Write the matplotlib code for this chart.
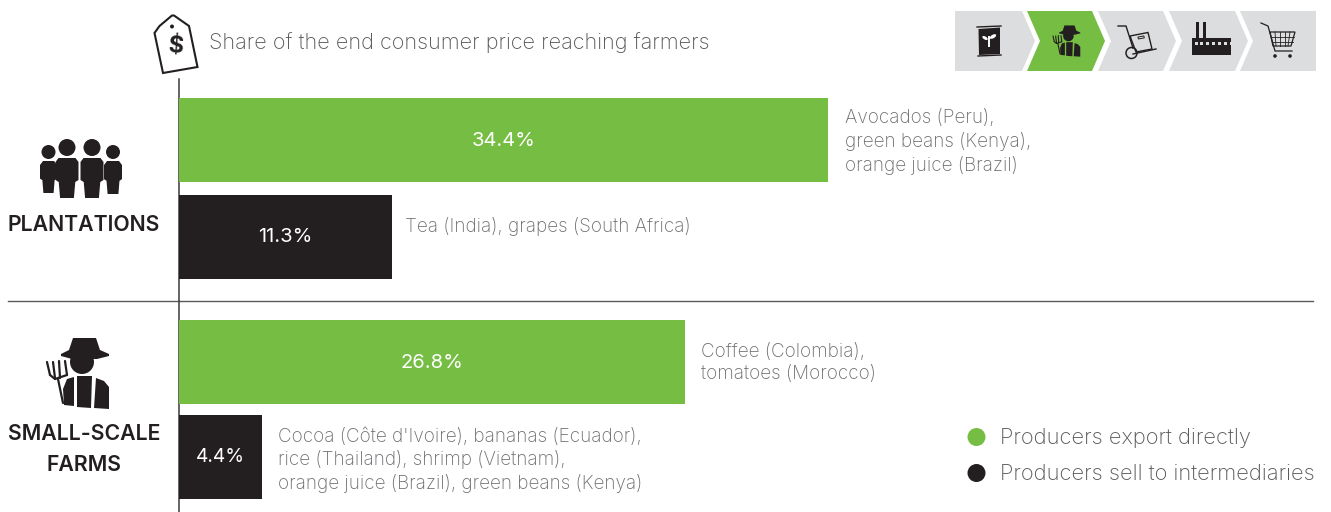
import matplotlib
matplotlib.use('Agg')
import matplotlib.pyplot as plt
from matplotlib.patches import Polygon, Circle, Ellipse, Rectangle

# data
values = [34.4, 11.3, 26.8, 4.4]
value_labels = ['34.4%', '11.3%', '26.8%', '4.4%']
notes = ['Avocados (Peru),\ngreen beans (Kenya),\norange juice (Brazil)',
         'Tea (India), grapes (South Africa)',
         'Coffee (Colombia),\ntomatoes (Morocco)',
         "Cocoa (Côte d'Ivoire), bananas (Ecuador),\nrice (Thailand), shrimp (Vietnam),\norange juice (Brazil), green beans (Kenya)"]
legend_labels = ['Producers export directly', 'Producers sell to intermediaries']
title = 'Share of the end consumer price reaching farmers'

GREEN = '#76BE43'
BLACK = '#231F20'
GREY = '#DCDDDE'
TEXT = '#6D6E71'
bar_colors = [GREEN, BLACK, GREEN, BLACK]
bar_tops = [98, 195, 320, 415]
bar_h = 84
PX_PER_UNIT = 18.87

plt.rcParams['font.family'] = ['Inter', 'Roboto', 'DejaVu Sans']

W, H = 1331, 512
fig = plt.figure(figsize=(W / 100, H / 100), dpi=100)

# pixel canvas for text and pictograms
ax = fig.add_axes([0, 0, 1, 1])
ax.set_xlim(0, W)
ax.set_ylim(H, 0)
ax.axis('off')

# bars get their own axes, the x scale is share in %
bx = fig.add_axes([179 / W, 0, (W - 179) / W, 1])
bx.set_xlim(0, (W - 179) / PX_PER_UNIT)
bx.set_ylim(H, 0)
bx.axis('off')
bx.patch.set_alpha(0)

centers = [t + bar_h / 2 for t in bar_tops]
bx.barh(centers, values, height=bar_h, color=bar_colors, linewidth=0)

for i in range(4):
    bx.text(values[i] * 0.5, centers[i] + 0.5, value_labels[i],
            color='white', ha='center', va='center', fontsize=14.5 if i < 3 else 13.8)
note_y = [142, 226, 363, 460]
note_gap = [17, 12.5, 16, 15.5]
for i in range(4):
    ax.text(179 + values[i] * PX_PER_UNIT + note_gap[i], note_y[i], notes[i], color=TEXT, ha='left', va='center',
            fontsize=13.6, fontweight='light', linespacing=1.31)

# axis line + separator
ax.plot([178.5, 178.5], [79, 512], color='#3A3A3C', lw=1.1, zorder=5)
ax.plot([8, 1313], [300.5, 300.5], color='#58595B', lw=1.0, zorder=1)

ax.text(209, 43, title, color='#58595B', fontsize=15.55, fontweight='light', va='center', ha='left')

# group labels
ax.text(84, 225, 'PLANTATIONS', color=BLACK, fontsize=15.3, fontweight='semibold', ha='center', va='center')
ax.text(84, 434, 'SMALL-SCALE', color=BLACK, fontsize=15.3, fontweight='semibold', ha='center', va='center')
ax.text(84, 465, 'FARMS', color=BLACK, fontsize=15.3, fontweight='semibold', ha='center', va='center')

# legend
for y, c, lab in zip([437, 473], [GREEN, BLACK], legend_labels):
    ax.add_patch(Circle((976.5, y), 9, color=c, lw=0))
    ax.text(1000, y + 1, lab, color='#58595B', fontsize=15.8, fontweight='light', va='center', ha='left')


def poly(pts, ox=0, oy=0, s=1, **kw):
    kw.setdefault('lw', 0)
    kw.setdefault('fc', BLACK)
    ax.add_patch(Polygon([(ox + x * s, oy + y * s) for x, y in pts], closed=True, **kw))


def farmer(ox, oy, s, lw=1.6):
    # coords taken off the big icon, scaled for the small one
    poly([(26, 1), (49, 1), (53, 13), (62, 17), (62, 19), (50, 22), (25, 22), (14, 19), (14, 17), (22, 13)], ox, oy, s)
    ax.add_patch(Ellipse((ox + 35 * s, oy + 25 * s), 24 * s, 24 * s, color=BLACK, lw=0))
    poly([(20, 42), (27, 40), (27, 69), (17, 68), (16, 52)], ox, oy, s)
    poly([(30, 39), (45, 39), (44, 71), (30, 70)], ox, oy, s)
    poly([(49, 41), (57, 44), (62, 50), (62, 72), (47, 71)], ox, oy, s)
    # pitchfork
    for a, b in [((0, 25), (3, 38)), ((6, 25), (8, 41)), ((12, 24), (13, 41)), ((18, 24), (20, 38)),
                 ((3, 38), (8, 42)), ((8, 42), (20, 38)), ((11, 42), (16, 66))]:
        ax.plot([ox + a[0] * s, ox + b[0] * s], [oy + a[1] * s, oy + b[1] * s], color=BLACK, lw=lw,
                solid_capstyle='round')


def person(cx, top, r, w, h):
    ax.add_patch(Circle((cx, top + r), r, color=BLACK, lw=0))
    y0 = top + 2 * r + 2
    poly([(cx - w / 2 + 3, y0), (cx + w / 2 - 3, y0), (cx + w / 2, y0 + 4), (cx + w / 2, y0 + h * 0.55),
          (cx + w * 0.36, y0 + h * 0.6), (cx + w * 0.3, y0 + h), (cx - w * 0.3, y0 + h),
          (cx - w * 0.36, y0 + h * 0.6), (cx - w / 2, y0 + h * 0.55), (cx - w / 2, y0 + 4)])


# plantations pictogram
person(48.5, 145, 7, 17, 32)
person(113, 145, 7, 18, 33)
person(92, 139, 8.5, 23, 40)
person(67, 139, 8.5, 23, 40)

# small-scale farms pictogram
farmer(47, 337, 1.0)

# price tag
poly([(172, 15.5), (159.5, 26), (154.5, 33), (163, 73), (197.5, 67), (189, 26), (174, 15.5)],
     fc='white', ec=BLACK, lw=1.5)
ax.add_patch(Circle((172, 26.5), 2, color=BLACK, lw=0))
ax.text(176, 47, '$', color=BLACK, fontsize=17, fontweight='bold', ha='center', va='center', rotation=-4)

# value chain chevrons
chev_y0, chev_y1, chev_mid = 11, 71, 41
poly([(955, chev_y0), (1022, chev_y0), (1035, chev_mid), (1022, chev_y1), (955, chev_y1)], fc=GREY)
poly([(1027, chev_y0), (1092, chev_y0), (1105, chev_mid), (1092, chev_y1), (1027, chev_y1), (1040, chev_mid)], fc=GREEN)
poly([(1098, chev_y0), (1163, chev_y0), (1176, chev_mid), (1163, chev_y1), (1098, chev_y1), (1111, chev_mid)], fc=GREY)
poly([(1169, chev_y0), (1235, chev_y0), (1248, chev_mid), (1235, chev_y1), (1169, chev_y1), (1182, chev_mid)], fc=GREY)
poly([(1240, chev_y0), (1316, chev_y0), (1316, chev_y1), (1240, chev_y1), (1253, chev_mid)], fc=GREY)

# seed bag
poly([(978.5, 29), (1000, 27.5), (1000, 54), (979, 55)])
ax.plot([977, 1001], [27, 26], color=BLACK, lw=1)
ax.plot([978, 1001], [56, 55], color=BLACK, lw=1)
ax.plot([989, 989], [37, 46], color='white', lw=1.4)
ax.add_patch(Ellipse((985, 38), 6, 3, angle=30, color='white', lw=0))
ax.add_patch(Ellipse((993, 36.5), 7, 3.5, angle=-30, color='white', lw=0))

# farmer on green chevron
farmer(1053, 25, 0.44, lw=0.8)

# hand truck
ax.plot([1118, 1126, 1133], [26, 26, 48], color=BLACK, lw=1)
ax.plot([1133, 1156], [54, 49], color=BLACK, lw=1)
ax.add_patch(Circle((1131.5, 53), 5.5, fc='none', ec=BLACK, lw=1.1))
poly([(1130, 36), (1148, 32.5), (1152, 49), (1136, 52)], fc='none', ec=BLACK, lw=1)
ax.add_patch(Rectangle((1138, 37), 6, 2, fc='none', ec=BLACK, lw=0.7, angle=-10))

# factory
poly([(1196, 22), (1199, 22), (1199, 38), (1203, 38), (1203, 22), (1206, 22), (1206, 38),
      (1231, 38), (1231, 55), (1192, 55), (1192, 38), (1196, 38)])
for x in range(1201, 1232, 6):
    ax.add_patch(Rectangle((x - 1, 42), 3, 3, color=GREY, lw=0))
ax.add_patch(Rectangle((1195, 42), 3, 3, color=GREY, lw=0))

# shopping cart
ax.plot([1261, 1268, 1275, 1292], [23, 26, 51, 51], color=BLACK, lw=0.9)
poly([(1270, 32), (1295, 32), (1291, 46), (1273, 46)], fc='none', ec=BLACK, lw=0.9)
for x0, x1 in [(1275, 1276), (1280, 1280), (1285, 1285), (1290, 1288)]:
    ax.plot([x0, x1], [32, 46], color=BLACK, lw=0.6)
for y, a, b in [(37, 1271, 1294), (41.5, 1272, 1293)]:
    ax.plot([a, b], [y, y], color=BLACK, lw=0.6)
ax.add_patch(Circle((1275, 56), 1.8, color=BLACK, lw=0))
ax.add_patch(Circle((1290, 56), 1.8, color=BLACK, lw=0))

fig.savefig('out.png', dpi=100, facecolor='white')
